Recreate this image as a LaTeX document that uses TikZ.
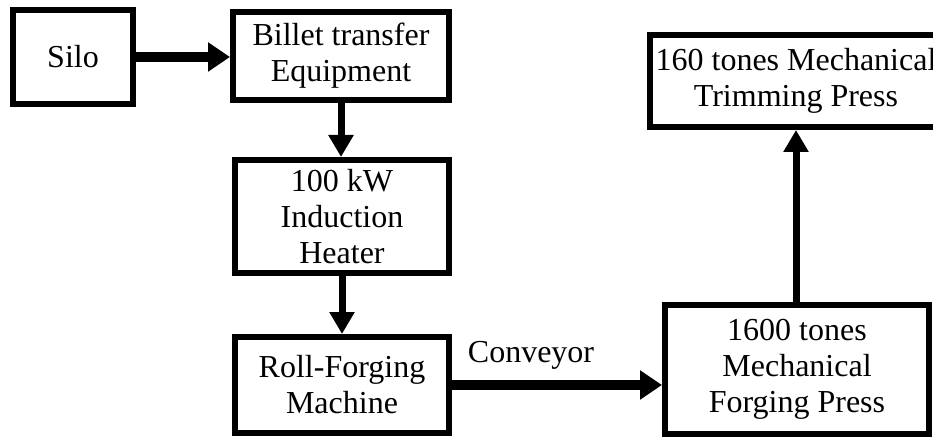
\documentclass[tikz,border=0pt]{standalone}
\usepackage{fontspec}
\setmainfont{Liberation Serif}
\usetikzlibrary{arrows.meta}
\tikzset{
  blk/.style={draw=black, line width=6pt, inner sep=0pt, align=center,
    font=\fontsize{32}{36}\selectfont},
  vflow/.style={line width=7pt, -{Triangle[length=22pt,width=24pt]}},
  hflow/.style={line width=10pt, -{Triangle[length=22pt,width=28pt]}},
  lbl/.style={font=\fontsize{32}{36}\selectfont, inner sep=0pt}
}
\begin{document}
\begin{tikzpicture}[x=1pt,y=-1pt]
\useasboundingbox (0,0) rectangle (933,443);
\begin{scope}
\clip (0,0) rectangle (933,443);
\node[blk, minimum width=120pt, minimum height=94pt] (silo) at (73,57) {Silo};
\node[blk, minimum width=216pt, minimum height=88pt] (billet) at (341,56) {Billet transfer\\Equipment};
\node[blk, minimum width=214pt, minimum height=113pt] (heater) at (342,216.5) {100 kW\\Induction\\Heater};
\node[blk, minimum width=214pt, minimum height=96pt] (roll) at (342,385) {Roll-Forging\\Machine};
\node[blk, minimum width=264pt, minimum height=129pt] (forge) at (797,369.5) {1600 tones\\Mechanical\\Forging Press};
\node[blk, minimum width=292pt, minimum height=92pt] (trim) at (796,81) {160 tones Mechanical\\Trimming Press};
\draw[hflow] (silo.east) -- (silo.east -| billet.west);
\draw[vflow] (billet.south) -- (billet.south |- heater.north);
\draw[vflow] (heater.south) -- (roll.north);
\draw[hflow] (roll.east) -- (roll.east -| forge.west);
\draw[vflow] (forge.north -| trim.south) -- (trim.south);
\node[lbl] (conv) at (531,355) {Conveyor};
\end{scope}
\end{tikzpicture}
\end{document}
